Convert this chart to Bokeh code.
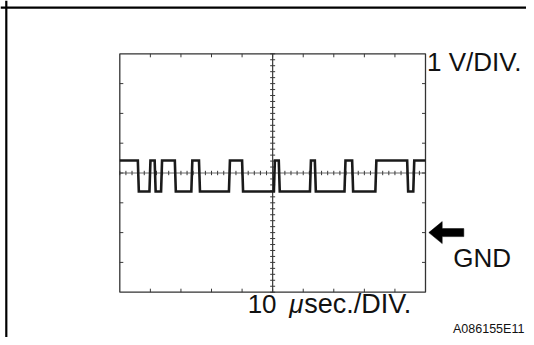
import numpy as np
from bokeh.plotting import figure
from bokeh.models import Range1d, Span
from bokeh.core.properties import value
from bokeh.embed import file_html
from bokeh.resources import INLINE

# ---------------- data ----------------
edge_times_us = [5.9, 9.7, 11.4, 13.5, 18.0, 23.4, 25.9, 35.7, 40.0,
                 50.4, 52.0, 62.2, 63.8, 73.5, 76.0, 83.6, 94.0, 96.0]
start_state = "high"
high_level_v = 2.42
low_level_v = 1.38
time_window_us = [0, 100]
volt_window = [-2, 6]          # relative to GND
us_per_div = 10
v_per_div = 1
gnd_level_v = 0
volt_label = "1 V/DIV."
time_label_num = "10"
time_label_mu = "μ"
time_label_unit = "sec./DIV."
gnd_label = "GND"
figure_id = "A086155E11"

# ---------------- layout ----------------
W, H = 526, 337
box_left, box_right, box_top, box_bottom = 119.3, 425.0, 53.3, 291.7
t0, t1 = time_window_us
v0, v1 = volt_window
px_per_us = (box_right - box_left) / (t1 - t0)
px_per_v = (box_bottom - box_top) / (v1 - v0)
x_start = t0 - box_left / px_per_us
x_end = t1 + (W - box_right) / px_per_us
y_end = v1 + box_top / px_per_v
y_start = v0 - (H - box_bottom) / px_per_v

p = figure(width=W, height=H, output_backend="svg", toolbar_location=None,
           x_range=Range1d(x_start, x_end), y_range=Range1d(y_start, y_end),
           min_border=0, min_border_left=0, min_border_right=0,
           min_border_top=0, min_border_bottom=0)
p.xaxis.visible = False
p.yaxis.visible = False
p.grid.visible = False
p.outline_line_color = None
p.background_fill_color = "white"
p.border_fill_color = "white"

def dx(px):
    return px / px_per_us

def dy(px):
    return px / px_per_v

# outer frame (left and top)
p.add_layout(Span(location=x_start + dx(5.8), dimension="height",
                  line_color="black", line_width=2.2))
p.add_layout(Span(location=y_end - dy(7.2), dimension="width",
                  line_color="black", line_width=2.2))

grid_col = "#3a3a3a"
xc = (t0 + t1) / 2
yc = (v0 + v1) / 2

# center lines
p.segment(x0=[t0], y0=[yc], x1=[t1], y1=[yc], line_color="#6a6a6a", line_width=1)
p.segment(x0=[xc], y0=[v0], x1=[xc], y1=[v1], line_color=grid_col, line_width=1.2)

# minor ticks on center lines
mx = np.arange(t0, t1 + 1e-9, us_per_div / 5)
p.segment(x0=mx, y0=yc - dy(2.2), x1=mx, y1=yc + dy(2.2), line_color=grid_col, line_width=1)
my = np.arange(v0, v1 + 1e-9, v_per_div / 5)
p.segment(x0=xc - dx(2.5), y0=my, x1=xc + dx(2.5), y1=my, line_color=grid_col, line_width=1)

# major ticks on the box edges
tx = np.arange(t0 + us_per_div, t1, us_per_div)
p.segment(x0=tx, y0=v1, x1=tx, y1=v1 - dy(3.5), line_color=grid_col, line_width=1)
p.segment(x0=tx, y0=v0, x1=tx, y1=v0 + dy(3.5), line_color=grid_col, line_width=1)
ty = np.arange(v0 + v_per_div, v1, v_per_div)
p.segment(x0=t0, y0=ty, x1=t0 + dx(3.5), y1=ty, line_color=grid_col, line_width=1)
p.segment(x0=t1, y0=ty, x1=t1 - dx(3.5), y1=ty, line_color=grid_col, line_width=1)

# box
p.quad(left=[t0], right=[t1], bottom=[v0], top=[v1], fill_color=None,
       line_color="#333333", line_width=1.3)

# trace
ramp = dx(1.0)
level = high_level_v if start_state == "high" else low_level_v
xs, ys = [t0], [level]
for t in edge_times_us:
    nxt = low_level_v if level == high_level_v else high_level_v
    xs += [t, t + ramp]
    ys += [level, nxt]
    level = nxt
xs.append(t1)
ys.append(level)
p.line(xs, ys, line_color="#1a1a1a", line_width=2.6, line_join="miter")

# GND arrow (tip at GND level just right of the box)
tip = t1 + dx(3.3)
head_base = tip + dx(13.4)
tail = tip + dx(35)
hh = dy(11)
sh = dy(4)
p.patch([tip, head_base, head_base, tail, tail, head_base, head_base],
        [gnd_level_v, gnd_level_v + hh, gnd_level_v + sh, gnd_level_v + sh,
         gnd_level_v - sh, gnd_level_v - sh, gnd_level_v - hh],
        fill_color="black", line_color="black", line_width=0.5)

font = value("Liberation Sans")
big = "26px"
tc = "#111111"
p.text(x=[t1 + dx(1.5)], y=[v1 - dy(7.7)], text=[volt_label], text_font=font,
       text_font_size=big, text_baseline="alphabetic", text_color=tc)
p.text(x=[t1 + dx(27.8)], y=[gnd_level_v - dy(25.2)], text=[gnd_label], text_font=font,
       text_font_size=big, text_baseline="alphabetic", text_color=tc)
p.text(x=[xc - dx(25)], y=[v0 - dy(11.3)], text=[time_label_num], text_font=font,
       text_font_size=big, text_baseline="alphabetic", text_color=tc)
p.text(x=[xc + dx(16.5)], y=[v0 - dy(11.3)], text=[time_label_mu], text_font=font,
       text_font_size=big, text_font_style="italic", text_baseline="alphabetic",
       text_color=tc)
p.text(x=[xc + dx(31.5)], y=[v0 - dy(11.3)], text=[time_label_unit], text_font=font,
       text_font_size="27px", text_baseline="alphabetic", text_color=tc)
p.text(x=[t1 + dx(27.5)], y=[v0 - dy(37.1)], text=[figure_id], text_font=font,
       text_font_size="12.5px", text_baseline="alphabetic", text_color=tc)

open("out.html", "w").write(file_html(p, INLINE))
